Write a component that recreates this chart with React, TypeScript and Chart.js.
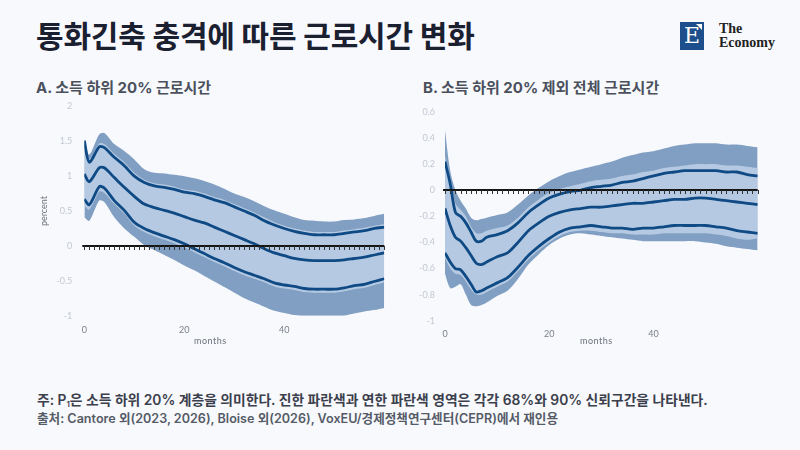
import React, { useEffect, useRef } from "react";
import { Chart, registerables } from "chart.js";

Chart.register(...registerables);

// ---------- Panel A: 소득 하위 20% 근로시간 ----------
const monthsA = [0, 1, 3, 4, 6, 8, 10, 12, 14, 16, 18, 20, 22, 24, 26, 28, 30, 32, 34, 36, 38, 40, 42, 44, 46, 48, 50, 52, 54, 56, 58, 60];
const outerHiA = [1.53, 1.31, 1.6, 1.62, 1.46, 1.36, 1.24, 1.1, 1.05, 1.04, 1.02, 1.0, 0.97, 0.93, 0.88, 0.82, 0.75, 0.7, 0.64, 0.57, 0.51, 0.46, 0.41, 0.37, 0.36, 0.35, 0.35, 0.37, 0.38, 0.4, 0.43, 0.46];
const innerHiA = [1.52, 1.25, 1.47, 1.46, 1.32, 1.2, 1.05, 0.95, 0.9, 0.88, 0.85, 0.81, 0.79, 0.75, 0.7, 0.66, 0.6, 0.54, 0.48, 0.41, 0.34, 0.29, 0.25, 0.22, 0.2, 0.2, 0.2, 0.22, 0.24, 0.26, 0.29, 0.31];
const upperA = [1.51, 1.2, 1.42, 1.41, 1.27, 1.15, 1.0, 0.91, 0.86, 0.84, 0.81, 0.77, 0.75, 0.71, 0.66, 0.62, 0.56, 0.5, 0.44, 0.36, 0.3, 0.25, 0.21, 0.18, 0.16, 0.16, 0.16, 0.18, 0.2, 0.22, 0.25, 0.27];
const midA = [1.03, 0.92, 1.12, 1.12, 0.98, 0.84, 0.71, 0.6, 0.55, 0.51, 0.47, 0.42, 0.37, 0.33, 0.27, 0.21, 0.15, 0.09, 0.03, -0.04, -0.1, -0.14, -0.18, -0.2, -0.21, -0.21, -0.21, -0.2, -0.18, -0.16, -0.13, -0.1];
const lowerA = [0.67, 0.59, 0.85, 0.83, 0.65, 0.51, 0.34, 0.25, 0.19, 0.14, 0.09, 0.03, -0.04, -0.11, -0.18, -0.24, -0.31, -0.37, -0.42, -0.47, -0.53, -0.56, -0.58, -0.61, -0.62, -0.62, -0.62, -0.6, -0.57, -0.55, -0.51, -0.47];
const innerLoA = [0.58, 0.52, 0.78, 0.76, 0.6, 0.46, 0.29, 0.2, 0.14, 0.09, 0.04, -0.02, -0.09, -0.16, -0.23, -0.29, -0.36, -0.42, -0.47, -0.52, -0.58, -0.61, -0.63, -0.66, -0.67, -0.67, -0.67, -0.65, -0.62, -0.6, -0.56, -0.52];
const outerLoA = [0.41, 0.36, 0.65, 0.63, 0.41, 0.25, 0.13, 0.01, -0.06, -0.13, -0.2, -0.28, -0.35, -0.43, -0.51, -0.59, -0.67, -0.75, -0.81, -0.87, -0.93, -0.96, -0.99, -1.01, -1.03, -1.03, -1.02, -1.0, -0.97, -0.94, -0.92, -0.89];
const yTicksA = [-1, -0.5, 0, 0.5, 1, 1.5, 2];

// ---------- Panel B: 소득 하위 20% 제외 전체 근로시간 ----------
const monthsB = [0, 1, 2, 3, 4, 5, 6, 7, 8, 10, 12, 14, 16, 18, 20, 22, 24, 26, 28, 30, 32, 34, 36, 38, 40, 42, 44, 46, 48, 50, 52, 54, 56, 58, 60];
const outerHiB = [0.46, 0.15, 0.0, -0.08, -0.14, -0.21, -0.23, -0.22, -0.21, -0.19, -0.17, -0.11, -0.04, 0.02, 0.07, 0.11, 0.14, 0.16, 0.18, 0.2, 0.22, 0.25, 0.27, 0.29, 0.3, 0.32, 0.34, 0.35, 0.36, 0.36, 0.36, 0.35, 0.35, 0.34, 0.33];
const innerHiB = [0.26, 0.1, -0.1, -0.15, -0.2, -0.28, -0.33, -0.33, -0.31, -0.29, -0.27, -0.21, -0.13, -0.07, -0.02, 0.01, 0.03, 0.05, 0.07, 0.08, 0.09, 0.11, 0.12, 0.14, 0.15, 0.17, 0.18, 0.19, 0.2, 0.2, 0.2, 0.19, 0.19, 0.18, 0.17];
const upperB = [0.22, 0.05, -0.17, -0.2, -0.25, -0.32, -0.39, -0.39, -0.36, -0.34, -0.31, -0.25, -0.17, -0.11, -0.06, -0.03, -0.01, 0.0, 0.02, 0.03, 0.04, 0.06, 0.07, 0.09, 0.11, 0.13, 0.14, 0.15, 0.15, 0.15, 0.15, 0.14, 0.14, 0.12, 0.11];
const midB = [-0.14, -0.27, -0.36, -0.39, -0.44, -0.5, -0.56, -0.57, -0.55, -0.51, -0.48, -0.4, -0.31, -0.25, -0.2, -0.17, -0.15, -0.14, -0.13, -0.13, -0.12, -0.11, -0.1, -0.1, -0.09, -0.08, -0.07, -0.07, -0.06, -0.06, -0.07, -0.08, -0.09, -0.1, -0.11];
const lowerB = [-0.48, -0.55, -0.6, -0.61, -0.66, -0.72, -0.78, -0.77, -0.75, -0.71, -0.67, -0.59, -0.5, -0.43, -0.37, -0.32, -0.29, -0.28, -0.27, -0.28, -0.29, -0.29, -0.3, -0.29, -0.29, -0.28, -0.27, -0.27, -0.27, -0.27, -0.28, -0.29, -0.31, -0.32, -0.33];
const innerLoB = [-0.52, -0.6, -0.64, -0.65, -0.7, -0.76, -0.8, -0.8, -0.78, -0.74, -0.7, -0.62, -0.53, -0.46, -0.4, -0.35, -0.32, -0.31, -0.31, -0.32, -0.33, -0.33, -0.34, -0.34, -0.34, -0.33, -0.33, -0.33, -0.33, -0.33, -0.34, -0.35, -0.37, -0.38, -0.37];
const outerLoB = [-0.64, -0.75, -0.74, -0.72, -0.8, -0.88, -0.89, -0.88, -0.86, -0.81, -0.77, -0.68, -0.57, -0.49, -0.42, -0.37, -0.34, -0.33, -0.34, -0.35, -0.36, -0.37, -0.38, -0.39, -0.39, -0.39, -0.39, -0.39, -0.39, -0.4, -0.41, -0.43, -0.44, -0.45, -0.46];
const yTicksB = [-1, -0.8, -0.6, -0.4, -0.2, 0, 0.2, 0.4, 0.6];

const xTicks = [0, 20, 40];

const DARK_BAND = "#809fc3";
const LIGHT_BAND = "#b5cae2";
const LINE = "#0f4a85";
const BG = "#f8f9fd";
const TICK_FONT = "Lato, 'Noto Sans', sans-serif";
const KR_FONT = "Inter, 'Noto Sans CJK KR', 'Noto Sans', sans-serif";

type Geom = { yWidth: number; xHeight: number; padTop: number; padRight: number; tickPad: number };

const zeroLine = {
  id: "zeroLine",
  afterDatasetsDraw(chart: any) {
    const { ctx, scales } = chart;
    const x = scales.x;
    const y = scales.y;
    const yp = Math.round(y.getPixelForValue(0));
    ctx.save();
    ctx.strokeStyle = "#151515";
    ctx.lineWidth = 2;
    ctx.beginPath();
    ctx.moveTo(x.getPixelForValue(x.min) - 2, yp);
    ctx.lineTo(x.getPixelForValue(x.max), yp);
    ctx.stroke();
    ctx.strokeStyle = "#333";
    ctx.lineWidth = 1;
    ctx.beginPath();
    for (let m = x.min; m <= x.max; m++) {
      const xp = Math.round(x.getPixelForValue(m)) + 0.5;
      ctx.moveTo(xp, yp);
      ctx.lineTo(xp, yp + 4);
    }
    ctx.stroke();
    ctx.restore();
  },
};

function pts(xs: number[], ys: number[]) {
  return xs.map((x, i) => ({ x, y: ys[i] }));
}

function buildConfig(
  months: number[],
  oHi: number[], iHi: number[], up: number[], mid: number[], lo: number[], iLo: number[], oLo: number[],
  yTicks: number[], showTitle: boolean, g: Geom
): any {
  const line = (data: number[]) => ({
    data: pts(months, data),
    borderColor: LINE,
    borderWidth: 2.8,
    pointRadius: 0,
    fill: false,
    tension: 0.3,
  });
  const edge = (data: number[], fill: any, color: string) => ({
    data: pts(months, data),
    borderWidth: 0,
    borderColor: "rgba(0,0,0,0)",
    backgroundColor: color,
    pointRadius: 0,
    fill,
    tension: 0.3,
  });
  return {
    type: "line",
    data: {
      datasets: [
        line(mid),
        line(up),
        line(lo),
        edge(iHi, "+1", LIGHT_BAND),
        edge(iLo, false, LIGHT_BAND),
        edge(oHi, "+1", DARK_BAND),
        edge(oLo, false, DARK_BAND),
      ],
    },
    options: {
      animation: false,
      responsive: false,
      maintainAspectRatio: false,
      layout: { padding: { top: g.padTop, right: g.padRight, left: 0, bottom: 0 } },
      plugins: { legend: { display: false }, tooltip: { enabled: false } },
      scales: {
        x: {
          type: "linear",
          min: 0,
          max: 60,
          grid: { display: false, drawTicks: false },
          border: { display: false },
          afterBuildTicks: (s: any) => { s.ticks = xTicks.map((v) => ({ value: v })); },
          afterFit: (s: any) => { s.height = g.xHeight; },
          ticks: { color: "#7a7f88", font: { family: TICK_FONT, size: 9 }, padding: g.tickPad, maxRotation: 0 },
        },
        y: {
          type: "linear",
          min: yTicks[0],
          max: yTicks[yTicks.length - 1],
          grid: { display: false, drawTicks: false },
          border: { display: false },
          afterBuildTicks: (s: any) => { s.ticks = yTicks.map((v) => ({ value: v })); },
          afterFit: (s: any) => { s.width = g.yWidth; },
          ticks: {
            color: "#c3c8d1",
            font: { family: TICK_FONT, size: 9 },
            padding: showTitle ? 12 : 10,
            callback: (v: any) => String(Math.round(Number(v) * 10) / 10),
          },
          title: {
            display: showTitle,
            text: "percent",
            color: "#6b707a",
            font: { family: TICK_FONT, size: 9 },
            padding: { top: 9, bottom: 0 },
          },
        },
      },
    },
    plugins: [zeroLine],
  };
}

function Panel(props: { cfg: () => any; left: number; top: number; width: number; height: number }) {
  const ref = useRef<HTMLCanvasElement | null>(null);
  useEffect(() => {
    if (!ref.current) return;
    const chart = new Chart(ref.current, props.cfg());
    return () => chart.destroy();
  }, []);
  return (
    <canvas
      ref={ref}
      width={props.width}
      height={props.height}
      style={{ position: "absolute", left: props.left, top: props.top, width: props.width, height: props.height }}
    />
  );
}

const abs = (o: any) => ({ position: "absolute" as const, margin: 0, whiteSpace: "nowrap" as const, ...o });

export default function App() {
  useEffect(() => {
    document.body.style.margin = "0";
    document.body.style.background = BG;
  }, []);

  const cfgA = () =>
    buildConfig(monthsA, outerHiA, innerHiA, upperA, midA, lowerA, innerLoA, outerLoA, yTicksA, true,
      { yWidth: 54.3, xHeight: 39.3, padTop: 4, padRight: 5.7, tickPad: 9 });
  const cfgB = () =>
    buildConfig(monthsB, outerHiB, innerHiB, upperB, midB, lowerB, innerLoB, outerLoB, yTicksB, false,
      { yWidth: 35, xHeight: 39.3, padTop: 17, padRight: 12.3, tickPad: 8 });

  return (
    <div style={{ position: "fixed", left: 0, top: 0, width: 800, height: 450, background: BG, overflow: "hidden", fontFamily: KR_FONT }}>
      <div style={abs({ left: 36, top: 18, fontSize: 30, fontWeight: 700, color: "#1b2030", lineHeight: "36px", letterSpacing: "-0.2px" })}>
        통화긴축 충격에 따른 근로시간 변화
      </div>

      {/* logo */}
      <div style={abs({ left: 680, top: 22, width: 24, height: 28, background: "#1d4f8d" })}>
        <div style={abs({ left: 0, top: 0, width: 24, height: 28, color: "#fff", fontFamily: "'DejaVu Serif', 'Liberation Serif', serif", fontSize: 22, lineHeight: "28px", textAlign: "center" })}>E</div>
        <div style={abs({ right: 2, top: 2, width: 0, height: 0, borderLeft: "6px solid transparent", borderTop: "6px solid #fff" })} />
      </div>
      <div style={abs({ left: 719, top: 22, fontFamily: "'Liberation Serif', 'DejaVu Serif', serif", fontSize: 14, fontWeight: 700, color: "#222", lineHeight: "14px" })}>
        The<br />Economy
      </div>

      <div style={abs({ left: 36, top: 78, fontSize: 15, fontWeight: 700, color: "#4a505c", lineHeight: "20px" })}>
        A. 소득 하위 20% 근로시간
      </div>
      <div style={abs({ left: 423, top: 78, fontSize: 15, fontWeight: 700, color: "#4a505c", lineHeight: "20px" })}>
        B. 소득 하위 20% 제외 전체 근로시간
      </div>

      <Panel cfg={cfgA} left={30} top={89} width={360} height={266} />
      <Panel cfg={cfgB} left={410} top={95} width={360} height={265} />

      <div style={abs({ left: 194, top: 335, fontSize: 9, fontFamily: TICK_FONT, color: "#6b707a", letterSpacing: "0.5px" })}>months</div>
      <div style={abs({ left: 580, top: 335, fontSize: 9, fontFamily: TICK_FONT, color: "#6b707a", letterSpacing: "0.5px" })}>months</div>

      <div style={abs({ left: 37, top: 391, fontSize: 13.8, fontWeight: 600, color: "#3b404c", lineHeight: "18px" })}>
        주: P<span style={{ fontSize: 8, verticalAlign: "-2px" }}>1</span>은 소득 하위 20% 계층을 의미한다. 진한 파란색과 연한 파란색 영역은 각각 68%와 90% 신뢰구간을 나타낸다.
      </div>
      <div style={abs({ left: 37, top: 410, fontSize: 12.6, fontWeight: 600, color: "#555b67", lineHeight: "17px" })}>
        출처: Cantore 외(2023, 2026), Bloise 외(2026), VoxEU/경제정책연구센터(CEPR)에서 재인용
      </div>
    </div>
  );
}
